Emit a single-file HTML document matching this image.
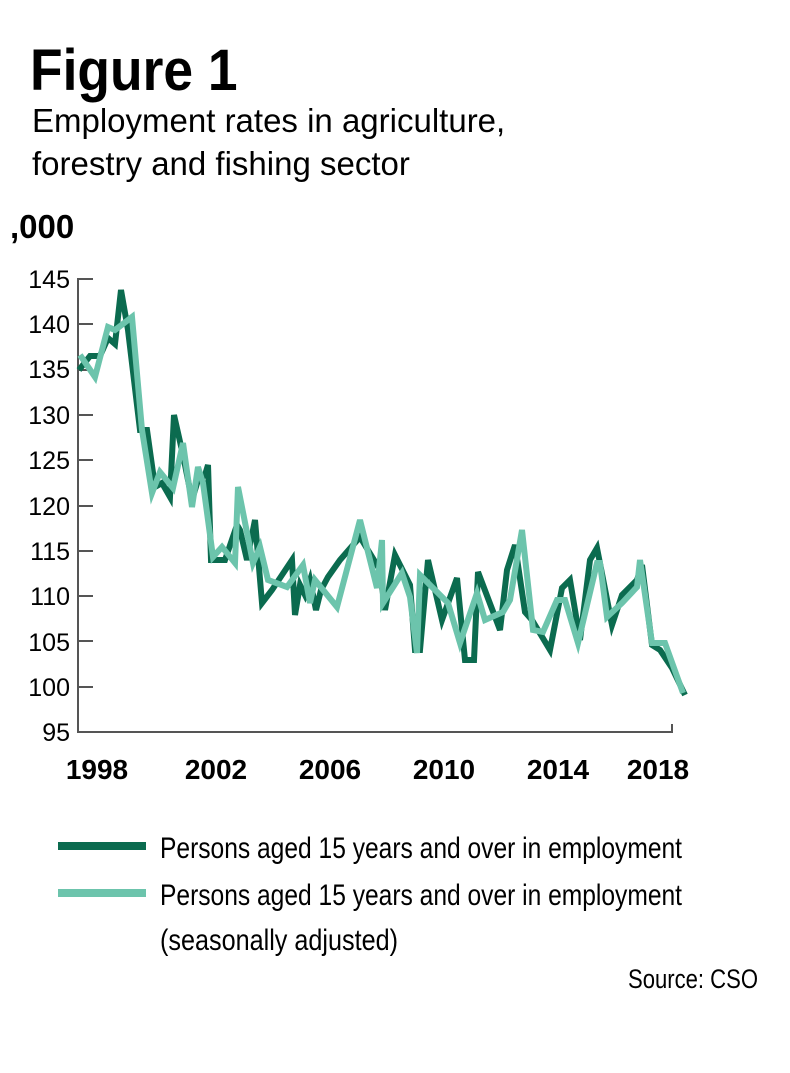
<!DOCTYPE html>
<html><head><meta charset="utf-8"><style>
body{margin:0;background:#fff;width:790px;height:1068px;overflow:hidden;font-family:"Liberation Sans",sans-serif;}
</style></head><body>
<svg width="790" height="1068" xmlns="http://www.w3.org/2000/svg">
<text x="30" y="90" font-family="Liberation Sans Narrow, Liberation Sans, sans-serif" font-weight="bold" font-size="58" fill="#000" transform="translate(30,0) scale(0.92,1) translate(-30,0)">Figure 1</text>
<text x="32" y="132" font-size="33" fill="#000">Employment rates in agriculture,</text>
<text x="32" y="175" font-size="33" fill="#000">forestry and fishing sector</text>
<text x="10" y="238" font-size="33" font-weight="bold" fill="#000">,000</text>
<g font-size="25" fill="#000" text-anchor="end">
<text x="70" y="288">145</text><text x="70" y="333">140</text><text x="70" y="378">135</text><text x="70" y="424">130</text><text x="70" y="469">125</text><text x="70" y="515">120</text><text x="70" y="560">115</text><text x="70" y="605">110</text><text x="70" y="651">105</text><text x="70" y="696">100</text><text x="70" y="741">95</text>
</g>
<g stroke="#555" stroke-width="2" fill="none">
<path d="M78,278 V732 H672 V724"/>
<path d="M78,279 h15 M78,324 h15 M78,370 h15 M78,415 h15 M78,460 h15 M78,506 h15 M78,551 h15 M78,596 h15 M78,641 h15 M78,687 h15"/>
</g>
<g font-size="28" font-weight="bold" fill="#000" text-anchor="middle">
<text x="97" y="779">1998</text><text x="216" y="779">2002</text><text x="330" y="779">2006</text><text x="444" y="779">2010</text><text x="558" y="779">2014</text><text x="658" y="779">2018</text>
</g>
<polyline fill="none" stroke="#0b6b4f" stroke-width="6" stroke-linejoin="miter" points="79,370 90,356 100,356 108,338 115,344 121,290 128,330 140,430 147,430 155,487 162,483 170,497 174,415 183,455 192,500 198,480 205,475 208,465 211,560 225,560 237,525 240,530 247,560 255,520 262,603 272,590 282,575 292,560 295,615 300,585 305,595 310,580 316,610 321,590 328,577 340,560 360,537 380,570 385,610 395,555 405,575 410,585 415,650 420,650 428,560 442,620 457,578 465,660 474,660 478,572 500,630 507,570 515,545 525,612 532,620 550,650 562,588 570,580 580,640 590,560 597,548 612,625 622,595 637,580 642,565 652,645 660,650 672,668 685,695"/>
<polyline fill="none" stroke="#6cc4ac" stroke-width="6" stroke-linejoin="miter" points="80,355 95,377 108,327 115,330 132,317 142,430 152,493 160,472 173,488 183,443 192,507 198,467 203,483 213,557 222,547 235,563 238,487 253,563 260,547 268,580 287,587 303,565 310,603 315,580 337,607 360,520 377,588 382,540 383,603 402,573 410,597 417,653 420,575 448,603 460,643 477,593 485,620 503,612 510,600 522,530 533,630 543,632 557,600 565,600 578,643 597,563 600,563 607,617 622,603 637,587 640,560 652,643 665,643 683,693"/>
<rect x="58" y="842" width="88" height="8" fill="#0b6b4f"/>
<rect x="58" y="889" width="88" height="8" fill="#6cc4ac"/>
<g font-family="Liberation Sans Narrow, Liberation Sans, sans-serif" font-size="30" fill="#000">
<text x="160" y="858" textLength="522" lengthAdjust="spacingAndGlyphs">Persons aged 15 years and over in employment</text>
<text x="160" y="905" textLength="522" lengthAdjust="spacingAndGlyphs">Persons aged 15 years and over in employment</text>
<text x="160" y="950" textLength="238" lengthAdjust="spacingAndGlyphs">(seasonally adjusted)</text>
<text x="758" y="988" text-anchor="end" font-size="27" textLength="130" lengthAdjust="spacingAndGlyphs">Source: CSO</text>
</g>
</svg>
</body></html>
